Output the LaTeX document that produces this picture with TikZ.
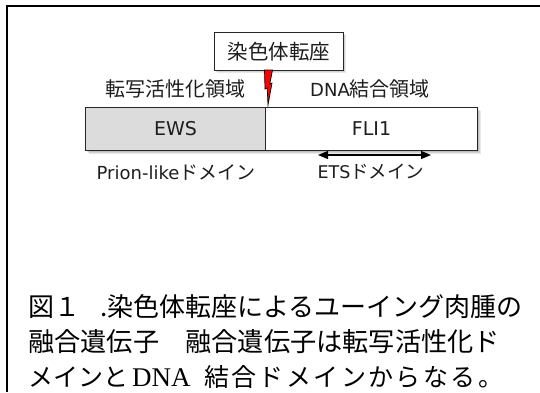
\documentclass[tikz,border=0pt]{standalone}
\usepackage{fontspec}
\setmainfont{Liberation Serif}
\newfontfamily\jpf{Noto Sans CJK JP}
\newfontfamily\latf{DejaVu Sans}
\newfontfamily\serf{Liberation Serif}
\usetikzlibrary{arrows.meta,calc}
\definecolor{ewsgray}{RGB}{220,220,220}
\definecolor{txtcol}{RGB}{30,30,30}
\tikzset{
  lbl/.style={inner sep=0pt, font=\jpf\fontsize{19}{22}\selectfont, text=txtcol},
  toplbl/.style={inner sep=0pt, font=\jpf\fontsize{20}{22}\selectfont, text=txtcol},
  barbox/.style={draw=black!85, line width=1pt, inner sep=0pt, minimum height=43pt, anchor=north west, font=\latf\fontsize{19}{22}\selectfont, text=txtcol},
  transbox/.style={draw=black!85, line width=1pt, fill=white, inner sep=0pt, minimum width=129pt, minimum height=38pt, anchor=north west, font=\jpf\fontsize{20.5}{24}\selectfont, text=txtcol},
  captxt/.style={inner sep=0pt, anchor=base west, font=\jpf\fontsize{26}{30}\selectfont},
  shadowrect/.style={fill=black, opacity=0.09, draw=none}
}
\newcommand{\lt}[1]{{\latf\fontsize{18}{22}\selectfont #1}}
\newcommand{\ltb}[1]{{\latf\fontsize{17.5}{22}\selectfont #1}}
\begin{document}
\begin{tikzpicture}[x=1pt,y=1pt]
\useasboundingbox (0,0) rectangle (540,-392);
\fill[white] (0,0) rectangle (540,-392);
% frame
\draw[line width=2pt] (7,-392) -- (7,-6) -- (540,-6);
% shadows
\foreach \d in {1,2,3,4}{
  \fill[shadowrect] (85+\d,-107-\d) rectangle (477+\d,-150-\d);
  \fill[shadowrect] (214+\d*0.7,-32-\d*0.7) rectangle (343+\d*0.7,-70-\d*0.7);
}
% translocation box
\node[transbox] (tb) at (214,-32) {染色体転座};
% lightning
\coordinate (lt) at (268,-70);
\draw[fill=red, draw=black, line width=0.7pt, line join=miter]
  ($(lt)+(-3.5,0)$) -- ($(lt)+(4.5,0)$) -- ($(lt)+(1.8,-14)$) -- ($(lt)+(4,-13)$)
  -- ($(lt)+(0,-35)$) -- ($(lt)+(-0.8,-18)$) -- ($(lt)+(-3,-19)$) -- cycle;
% labels
\node[toplbl] (act) at (175,-89) {転写活性化領域};
\node[toplbl] (dbd) at (370,-89) {\lt{DNA}結合領域};
% bar
\node[barbox, fill=ewsgray, minimum width=180pt] (ews) at (85,-107) {EWS};
\node[barbox, fill=white, minimum width=212pt] (fli) at (265,-107) {FLI1};
% ETS arrow
\coordinate (etsL) at (318,-155);
\coordinate (etsR) at (431,-155);
\draw[{Triangle[length=10pt,width=8pt]}-{Triangle[length=10pt,width=8pt]}, line width=1.1pt] (etsL) -- (etsR);
\node[lbl] (prion) at (176,-172) {\lt{Prion-like}ドメイン};
\node[lbl, font=\jpf\fontsize{18.5}{22}\selectfont] (ets) at (371,-172) {\ltb{ETS}ドメイン};
% caption
\node[captxt] (c1) at (28,-316) {図１　\kern-6pt.染色体転座によるユーイング肉腫の};
\node[captxt, font=\jpf\fontsize{26.2}{30}\selectfont] (c2) at (28,-351) {融合遺伝子　融合遺伝子は転写活性化ド};
\node[captxt, font=\jpf\fontsize{25}{30}\selectfont] (c3a) at (28,-386) {メインと};
\node[captxt, font=\serf\fontsize{27}{30}\selectfont] (c3b) at (132,-386) {DNA};
\node[captxt, font=\jpf\fontsize{25}{30}\selectfont\addfontfeature{LetterSpace=9.6}] (c3c) at (204,-386) {結合ドメインからなる。};
\end{tikzpicture}
\end{document}
